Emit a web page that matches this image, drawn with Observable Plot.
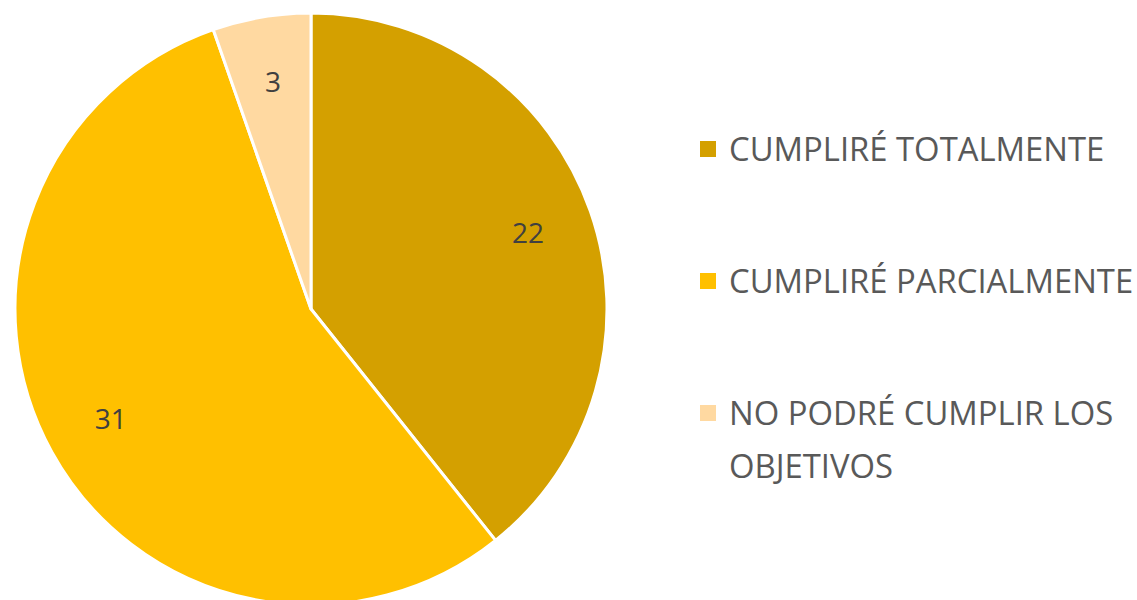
<!DOCTYPE html>
<html>
<head>
<meta charset="utf-8">
<script src="https://cdn.jsdelivr.net/npm/d3@7"></script>
<script src="https://cdn.jsdelivr.net/npm/@observablehq/plot@0.6"></script>
<style>
  html, body { margin: 0; padding: 0; background: #fff; }
  #wrap { position: relative; width: 1137px; height: 600px; overflow: hidden; font-family: "Open Sans", "Noto Sans", sans-serif; }
  #chart { position: absolute; left: 0; top: 0; }
  .leg { position: absolute; left: 700px; display: flex; align-items: flex-start; color: #595959; font-size: 32.8px; line-height: 53px; white-space: nowrap; }
  .sw { width: 16px; height: 16px; margin-top: 19px; margin-right: 13px; flex: none; }
</style>
</head>
<body>
<div id="wrap"><div id="chart"></div><div id="legend"></div></div>
<script>
const categories = ["CUMPLIRÉ TOTALMENTE", "CUMPLIRÉ PARCIALMENTE", "NO PODRÉ CUMPLIR LOS OBJETIVOS"];
const legendLines = [["CUMPLIRÉ TOTALMENTE"], ["CUMPLIRÉ PARCIALMENTE"], ["NO PODRÉ CUMPLIR LOS", "OBJETIVOS"]];
const values = [22, 31, 3];
const colors = ["#D4A000", "#FFC000", "#FFD9A1"];

const data = categories.map((c, i) => ({category: c, value: values[i]}));
const arcs = d3.pie().sort(null).value(d => d.value)(data);
const labelArc = d3.arc().innerRadius(0.55).outerRadius(1);
const labels = arcs.map(a => {
  const [cx, cy] = labelArc.centroid(a);
  return {x: cx, y: -cy, value: a.data.value};
});

const color = d3.scaleOrdinal(categories, colors);

function pieMark(index, scales) {
  const x0 = scales.x(0), y0 = scales.y(0);
  const r = Math.abs(scales.x(1) - scales.x(0));
  const arc = d3.arc().innerRadius(0).outerRadius(r);
  const g = d3.create("svg:g").attr("transform", `translate(${x0},${y0})`);
  g.selectAll("path").data(arcs).join("path")
    .attr("d", arc)
    .attr("fill", d => color(d.data.category))
    .attr("stroke", "#fff")
    .attr("stroke-width", 3)
    .attr("stroke-linejoin", "round");
  return g.node();
}

const plot = Plot.plot({
  width: 640,
  height: 600,
  margin: 0,
  x: {domain: [-1, 1], range: [15, 607], axis: null},
  y: {domain: [-1, 1], range: [605, 13], axis: null},
  marks: [
    pieMark,
    Plot.text(labels, {x: "x", y: "y", text: d => String(d.value), fill: "#404040", fontSize: 28, fontFamily: "Open Sans, Noto Sans, sans-serif"})
  ]
});
document.getElementById("chart").appendChild(plot);

const legend = document.getElementById("legend");
const tops = [122, 254, 386];
categories.forEach((c, i) => {
  const row = document.createElement("div");
  row.className = "leg";
  row.style.top = tops[i] + "px";
  const sw = document.createElement("div");
  sw.className = "sw";
  sw.style.background = color(c);
  const tx = document.createElement("div");
  tx.innerHTML = legendLines[i].join("<br>");
  row.appendChild(sw); row.appendChild(tx);
  legend.appendChild(row);
});
</script>
</body>
</html>
